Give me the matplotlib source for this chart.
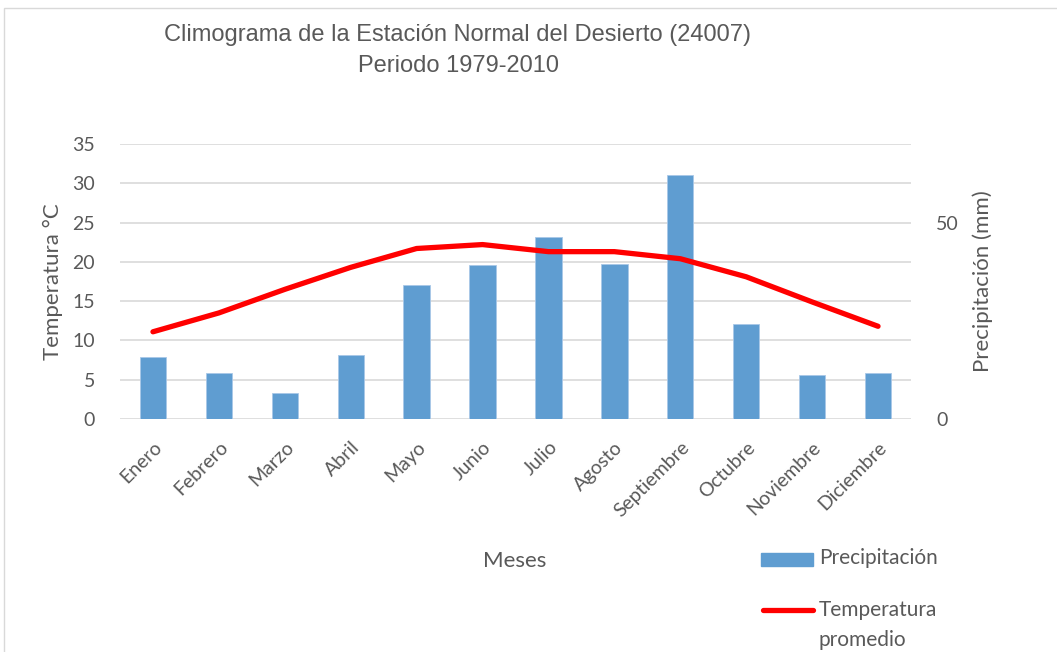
import matplotlib
matplotlib.use('Agg')
import matplotlib.pyplot as plt
import matplotlib.patches as mpatches
from matplotlib.lines import Line2D
import numpy as np

meses = ['Enero', 'Febrero', 'Marzo', 'Abril', 'Mayo', 'Junio', 'Julio',
         'Agosto', 'Septiembre', 'Octubre', 'Noviembre', 'Diciembre']
precipitacion = [15.7, 11.7, 6.6, 16.4, 34.0, 39.1, 46.4, 39.4, 62.0, 24.3, 11.1, 11.8]
temperatura = [11.1, 13.5, 16.5, 19.3, 21.7, 22.2, 21.3, 21.3, 20.4, 18.1, 14.9, 11.8]

grey = '#595959'
bar_color = '#5f9dd1'
font = ['Lato', 'DejaVu Sans']
narrow = ['Liberation Sans Narrow', 'Liberation Sans', 'DejaVu Sans']

W, H = 1057, 652
fig = plt.figure(figsize=(W / 100, H / 100), dpi=100)
fig.patches.append(mpatches.Rectangle((4/W, -0.01), 1.1, 1 - 8/H + 0.01,
                                      transform=fig.transFigure, fill=False,
                                      edgecolor='#d9d9d9', linewidth=1))

ax = fig.add_axes([120/W, 1 - 419/H, 791/W, 275/H])
ax2 = ax.twinx()
x = np.arange(len(meses))

# bars on the secondary (mm) axis, line on top
ax2.bar(x, precipitacion, width=0.4, color=bar_color, edgecolor='#a9c8e8', linewidth=0.6, zorder=2)
ax2.set_ylim(0, 70)
ax2.set_yticks([0, 50])
ax2.set_zorder(1)
ax.set_zorder(2)
ax.patch.set_visible(False)
ax2.grid(False)
# gridlines for temperature axis drawn behind bars
for v in range(0, 36, 5):
    ax2.axhline(v * 2, color='#d9d9d9', linewidth=1.2, zorder=0)

ax.plot(x, temperatura, color='#ff0000', linewidth=3.8, solid_capstyle='round',
        solid_joinstyle='round', zorder=3)
ax.set_ylim(0, 35)
ax.set_yticks(range(0, 36, 5))
ax.set_xlim(-0.5, 11.5)
ax.set_xticks(x)
ax.set_xticklabels(meses, rotation=45, ha='right', rotation_mode='anchor',
                   fontsize=14, color=grey, family=font)

for a in (ax, ax2):
    for s in a.spines.values():
        s.set_visible(False)
    a.tick_params(length=0, labelsize=14, labelcolor=grey)
for lab in ax.get_yticklabels() + ax2.get_yticklabels():
    lab.set_family(font)
ax.tick_params(axis='y', pad=18)
ax.tick_params(axis='x', pad=14)
ax2.tick_params(axis='y', pad=18)

ax.set_ylabel('Temperatura °C', fontsize=16, color=grey, family=font, labelpad=7)
ax2.set_ylabel('Precipitación (mm)', fontsize=16, color=grey, family=font, labelpad=10)

fig.text(458/W, 1 - 35/H, 'Climograma de la Estación Normal del Desierto (24007)',
         ha='center', va='center', fontsize=17, color=grey, family=narrow)
fig.text(458/W, 1 - 66/H, 'Periodo 1979-2010',
         ha='center', va='center', fontsize=17, color=grey, family=narrow)
fig.text(515/W, 1 - 561/H, 'Meses', ha='center', va='center',
         fontsize=16, color=grey, family=font)

# legend drawn by hand so the line sits on the first text line
fig.patches.append(mpatches.Rectangle((761/W, 1 - 566/H), 52/W, 13/H,
                                      transform=fig.transFigure, color=bar_color))
fig.text(819/W, 1 - 558/H, 'Precipitación', ha='left', va='center',
         fontsize=15, color=grey, family=font)
fig.lines.append(Line2D([763/W, 813/W], [1 - 610/H, 1 - 610/H], transform=fig.transFigure,
                        color='#ff0000', linewidth=3.8, solid_capstyle='round'))
fig.text(819/W, 1 - 610/H, 'Temperatura', ha='left', va='center',
         fontsize=15, color=grey, family=font)
fig.text(819/W, 1 - 640/H, 'promedio', ha='left', va='center',
         fontsize=15, color=grey, family=font)

fig.savefig('out.png', dpi=100)
